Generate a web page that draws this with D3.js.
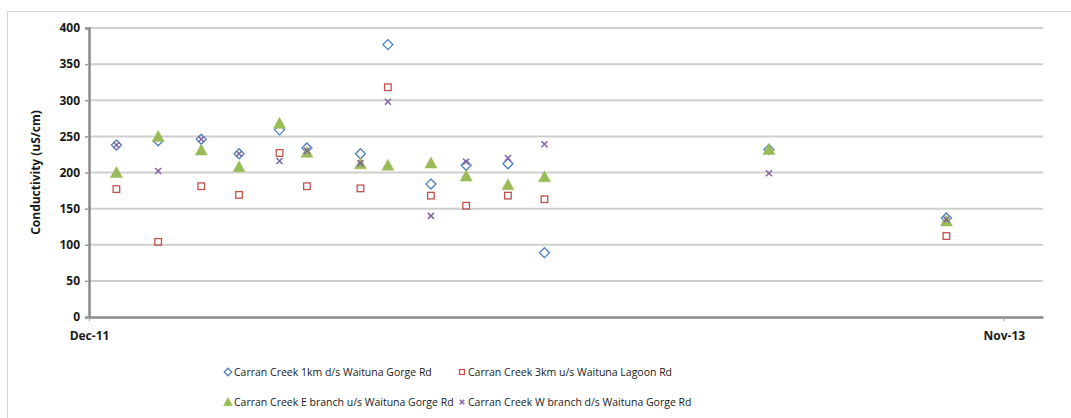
<!DOCTYPE html>
<html>
<head>
<meta charset="utf-8">
<script src="https://cdn.jsdelivr.net/npm/d3@7"></script>
<style>
  html, body { margin: 0; padding: 0; background: #fff; }
  svg { display: block; }
  text { font-family: "Open Sans", "Liberation Sans", sans-serif; }
</style>
</head>
<body>
<svg id="chart" width="1071" height="418"></svg>
<script>
// ---- data ----
const sampleDates = ["2011-12-22","2012-01-23","2012-02-25","2012-03-25","2012-04-25","2012-05-16",
  "2012-06-26","2012-07-17","2012-08-19","2012-09-15","2012-10-17","2012-11-14","2013-05-05","2013-09-18"];
const seriesNames = [
  "Carran Creek 1km d/s Waituna Gorge Rd",
  "Carran Creek 3km u/s Waituna Lagoon Rd",
  "Carran Creek E branch u/s Waituna Gorge Rd",
  "Carran Creek W branch d/s Waituna Gorge Rd"
];
const creek1kmDs  = [238, 244, 246, 226, 259, 234, 226, 377, 184, 210, 212, 89, 232, 137];
const creek3kmUs  = [177, 104, 181, 169, 227, 181, 178, 318, 168, 154, 168, 163, null, 112];
const eBranchUs   = [200, 250, 231, 208, 268, 228, 212, 210, 213, 195, 183, 194, 232, 133];
const wBranchDs   = [238, 202, 246, 226, 216, 230, 213, 298, 140, 215, 220, 239, 199, 135];
const yTickValues = [0, 50, 100, 150, 200, 250, 300, 350, 400];
const xTickLabels = ["2011-12-01", "2013-11-01"];
const yAxisTitle = "Conductivity (uS/cm)";

(function () {
// ---- layout ----
const svg = d3.select("#chart");
const mLeft = 89, mRight = 1043, mTop = 28, mBottom = 317;
const parse = d3.timeParse("%Y-%m-%d");

const x = d3.scaleTime().domain([parse("2011-12-01"), parse("2013-12-01")]).range([mLeft, mRight]);
const y = d3.scaleLinear().domain([0, 400]).range([mBottom, mTop]);

// chart frame
svg.append("rect").attr("x", 7.5).attr("y", 11.5).attr("width", 1100).attr("height", 440)
  .attr("fill", "#fff").attr("stroke", "#d4d4d4").attr("stroke-width", 1);

// gridlines
svg.append("g").selectAll("line").data(yTickValues.filter(v => v > 0)).join("line")
  .attr("x1", mLeft).attr("x2", mRight)
  .attr("y1", d => y(d)).attr("y2", d => y(d))
  .attr("stroke", "#cfcfcf").attr("stroke-width", 2);

// y axis
const yAxis = svg.append("g").attr("transform", `translate(${mLeft},0)`)
  .call(d3.axisLeft(y).tickValues(yTickValues).tickSize(4).tickPadding(5));
yAxis.select(".domain").attr("stroke", "#8a8a8a").attr("stroke-width", 2.5);
yAxis.selectAll(".tick line").attr("stroke", "#9a9a9a").attr("stroke-width", 1.5);
yAxis.selectAll(".tick text").attr("font-size", 12).attr("font-weight", "bold").attr("fill", "#1a1a1a");

// x axis
const xAxis = svg.append("g").attr("transform", `translate(0,${mBottom})`)
  .call(d3.axisBottom(x).tickValues(xTickLabels.map(parse)).tickFormat(d3.timeFormat("%b-%y"))
    .tickSize(4).tickSizeOuter(0).tickPadding(10));
xAxis.select(".domain").attr("stroke", "#8a8a8a").attr("stroke-width", 2.5);
xAxis.selectAll(".tick line").attr("stroke", "#9a9a9a").attr("stroke-width", 1);
xAxis.selectAll(".tick text").attr("font-size", 12).attr("font-weight", "bold").attr("fill", "#1a1a1a");

// y axis title
svg.append("text")
  .attr("transform", `translate(40,${(mTop + mBottom) / 2}) rotate(-90)`)
  .attr("text-anchor", "middle").attr("font-size", 12).attr("font-weight", "bold").attr("fill", "#1a1a1a")
  .text(yAxisTitle);

// ---- markers ----
const colors = ["#4f81bd", "#c0504d", "#9bbb59", "#8064a2"];
function drawMarker(g, type, cx, cy, s) {
  s = s || 1;
  if (type === 0) {
    const r = 5 * s;
    g.append("path").attr("d", `M${cx},${cy-r}L${cx+r},${cy}L${cx},${cy+r}L${cx-r},${cy}Z`)
      .attr("fill", "none").attr("stroke", colors[0]).attr("stroke-width", 1.3);
  } else if (type === 1) {
    const h = 3.3 * s;
    g.append("rect").attr("x", cx - h).attr("y", cy - h).attr("width", 2 * h).attr("height", 2 * h)
      .attr("fill", "none").attr("stroke", colors[1]).attr("stroke-width", 1.3);
  } else if (type === 2) {
    g.append("path").attr("d", `M${cx},${cy-6*s}L${cx+6*s},${cy+5*s}L${cx-6*s},${cy+5*s}Z`)
      .attr("fill", colors[2]).attr("stroke", colors[2]).attr("stroke-width", 0.5);
  } else {
    const r = 3 * s;
    g.append("path").attr("d", `M${cx-r},${cy-r}L${cx+r},${cy+r}M${cx+r},${cy-r}L${cx-r},${cy+r}`)
      .attr("stroke", colors[3]).attr("stroke-width", 1.5).attr("fill", "none");
  }
}

const allSeries = [creek1kmDs, creek3kmUs, eBranchUs, wBranchDs];
allSeries.forEach((arr, si) => {
  const g = svg.append("g").attr("class", "series-" + si);
  arr.forEach((v, i) => {
    if (v == null) return;
    drawMarker(g, si, x(parse(sampleDates[i])), y(v));
  });
});

// ---- legend ----
const legendPos = [[228, 372], [462, 372], [228, 402], [462, 402]];
seriesNames.forEach((name, i) => {
  const g = svg.append("g");
  const [lx, ly] = legendPos[i];
  drawMarker(g, i, lx, ly, 0.75);
  g.append("text").attr("x", lx + 6).attr("y", ly).attr("dy", "0.35em")
    .attr("font-size", 10.5).attr("fill", "#1a1a1a").text(name);
});
})();
</script>
</body>
</html>
